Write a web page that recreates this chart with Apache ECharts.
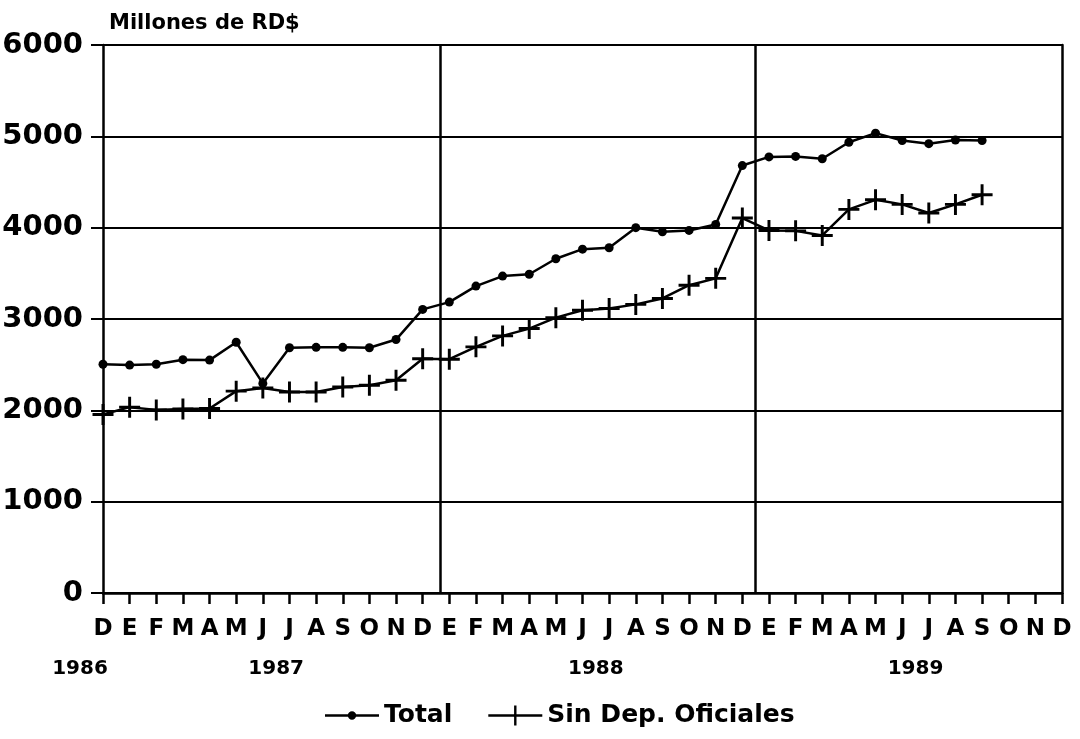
<!DOCTYPE html>
<html>
<head>
<meta charset="utf-8">
<script src="https://cdn.jsdelivr.net/npm/echarts@6/dist/echarts.min.js"></script>
<style>html,body{margin:0;padding:0;background:#fff}#c{width:1080px;height:739px}</style>
</head>
<body>
<div id="c"></div>
<script>
// Month labels: Dec 1986 through Dec 1989 (E = Enero)
const months = ['D','E','F','M','A','M','J','J','A','S','O','N','D','E','F','M','A','M','J','J','A','S','O','N','D','E','F','M','A','M','J','J','A','S','O','N','D'];
const years = ['1986','1987','1988','1989'];
const yTicks = [0,1000,2000,3000,4000,5000,6000];
const totalValues = [2505,2495,2505,2555,2550,2745,2295,2685,2690,2690,2685,2775,3105,3185,3360,3470,3490,3660,3765,3780,4000,3955,3970,4035,4680,4775,4780,4755,4935,5035,4955,4920,4960,4955];
const sinDepValues = [1955,2035,2005,2015,2020,2210,2245,2200,2200,2255,2275,2330,2565,2560,2695,2815,2895,3015,3095,3115,3160,3225,3370,3445,4105,3970,3965,3915,4200,4305,4255,4160,4255,4360];
const seriesNames = ['Total','Sin Dep. Oficiales'];

const FONT = 'DejaVu Sans';
const yearPositions = [0, 6.5, 18.5, 30.5];
const plus = 'path://M43,0h14v43h43v14h-43v43h-14v-43h-43v-14h43z';
// legend icons (54 x 20 box): line with small dot / line with plus
const legendDot = 'path://M0,0L0,0M54,20L54,20M0,8.8h23.2v2.4h-23.2zM30.8,8.8h23.2v2.4h-23.2zM22.8,10a4.2,4.2 0 1,1 8.4,0a4.2,4.2 0 1,1 -8.4,0z';
const legendPlus = 'path://M0,8.8h25.8v-8.8h2.4v8.8h25.8v2.4h-25.8v8.8h-2.4v-8.8h-25.8z';
const yearStyle = {color:'#000', fontFamily:FONT, fontWeight:'bold', fontSize:20};

const chart = echarts.init(document.getElementById('c'), null, {renderer:'canvas'});
chart.setOption({
  animation:false,
  backgroundColor:'#fff',
  title:{text:'Millones de RD$', left:104, top:8,
    textStyle:{fontFamily:FONT, fontWeight:'bold', fontSize:21, color:'#000'}},
  grid:{left:103, right:18, top:45, bottom:146, outerBoundsMode:'none'},
  legend:{
    data:[{name:seriesNames[0], icon:legendDot},{name:seriesNames[1], icon:legendPlus}],
    left:320, top:698, itemGap:36, itemWidth:54, itemHeight:20,
    textStyle:{fontFamily:FONT, fontWeight:'bold', fontSize:25, color:'#000'}
  },
  xAxis:[{
    type:'category', data:months, boundaryGap:false,
    axisLine:{lineStyle:{color:'#000', width:2.5}},
    axisTick:{show:true, length:11, interval:0, lineStyle:{color:'#000', width:2.5}},
    axisLabel:{interval:0, margin:25, color:'#000', fontFamily:FONT, fontWeight:'bold', fontSize:23},
    splitLine:{show:false}
  },{
    type:'value', min:0, max:36, position:'bottom',
    axisLine:{show:false}, axisTick:{show:false}, splitLine:{show:false},
    axisLabel:Object.assign({customValues:yearPositions, margin:66,
      rich:{first:Object.assign({padding:[0,46,0,0]}, yearStyle)},
      formatter:function(v){
        const i = yearPositions.indexOf(v);
        if (i < 0) return '';
        return i === 0 ? '{first|' + years[0] + '}' : years[i];
      }}, yearStyle)
  }],
  yAxis:[{
    type:'value', min:yTicks[0], max:yTicks[yTicks.length-1], interval:1000,
    axisLine:{show:true, lineStyle:{color:'#000', width:2.5}},
    axisTick:{show:true, length:12, lineStyle:{color:'#000', width:2}},
    axisLabel:{margin:20, color:'#000', fontFamily:FONT, fontWeight:'bold', fontSize:29,
      formatter:function(v){ return String(v); }},
    splitLine:{show:true, lineStyle:{color:'#000', width:2}}
  },{
    type:'value', min:0, max:6000, position:'right',
    axisLine:{show:true, lineStyle:{color:'#000', width:2.5}},
    axisTick:{show:false}, axisLabel:{show:false}, splitLine:{show:false}
  }],
  series:[{
    name:seriesNames[0], type:'line', data:totalValues,
    symbol:'circle', symbolSize:9, showAllSymbol:true,
    lineStyle:{color:'#000', width:2.5}, itemStyle:{color:'#000'}
  },{
    name:seriesNames[1], type:'line', data:sinDepValues,
    symbol:plus, symbolSize:21, showAllSymbol:true,
    lineStyle:{color:'#000', width:2.5}, itemStyle:{color:'#000'}
  },{
    name:'sep', type:'line', xAxisIndex:1, yAxisIndex:0, data:[], silent:true,
    markLine:{silent:true, symbol:'none', label:{show:false},
      lineStyle:{color:'#000', width:2.5, type:'solid'},
      data:[{xAxis:12.65},{xAxis:24.5}]}
  }]
});
</script>
</body>
</html>
